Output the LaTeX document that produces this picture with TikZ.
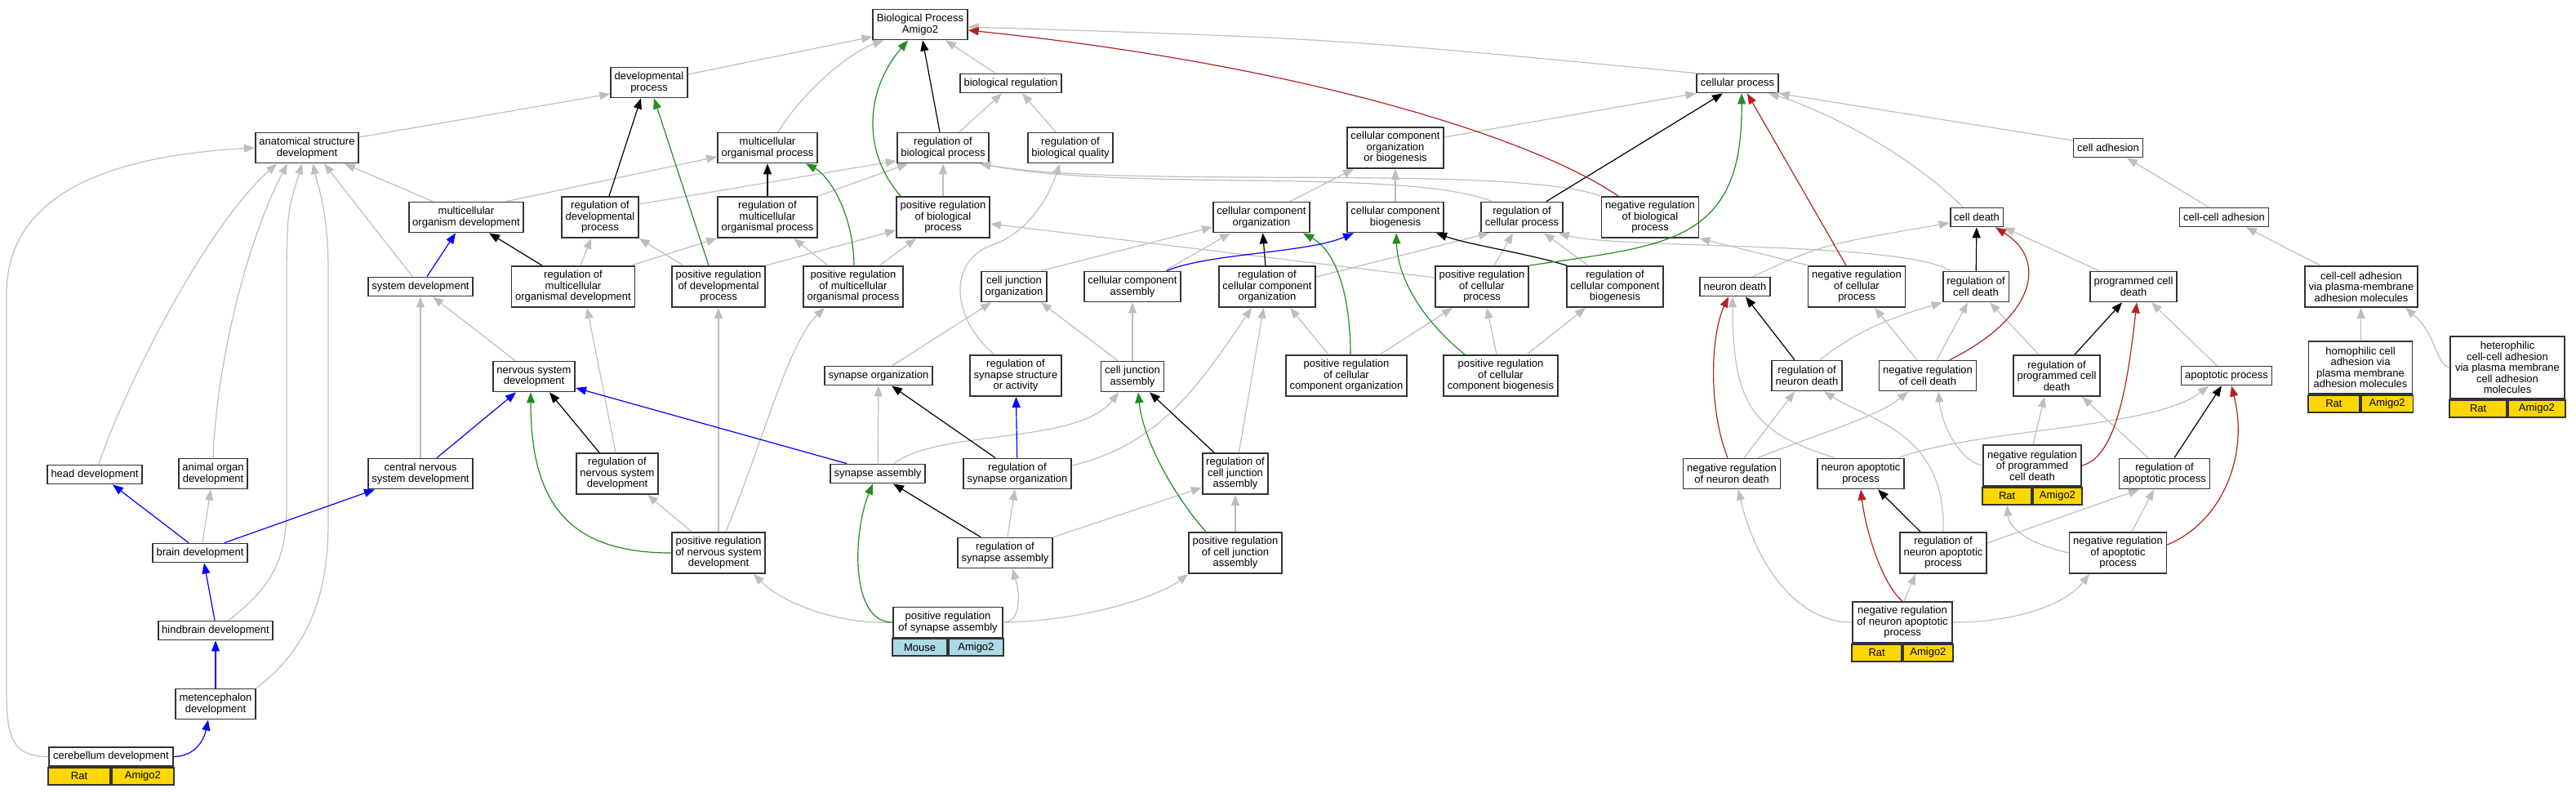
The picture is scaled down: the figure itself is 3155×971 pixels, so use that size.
\documentclass[tikz,border=0pt]{standalone}
\usepackage{fontspec}
\setmainfont{Liberation Sans}
\usetikzlibrary{arrows.meta}

\definecolor{isagray}{HTML}{BEBEBE}
\definecolor{posgreen}{HTML}{228B22}
\definecolor{negred}{HTML}{B22222}
\definecolor{ratgold}{HTML}{FFD700}
\definecolor{mouseblue}{HTML}{ADD8E6}
\definecolor{boxline}{HTML}{333333}

\begin{document}
\begin{tikzpicture}[x=1pt, y=-1pt, >={Triangle[length=13pt,width=10pt]},
  gobox/.style={draw=boxline, line width=1.8pt, fill=white, align=center,
    inner xsep=4.6pt, inner ysep=1pt, font=\fontsize{13}{13.5}\selectfont},
  oneline/.style={gobox, minimum height=23pt},
  twoline/.style={gobox, minimum height=37pt},
  threeline/.style={gobox, minimum height=50pt},
  fourline/.style={gobox, minimum height=64pt},
  fiveline/.style={gobox, minimum height=76pt},
  species/.style={draw=boxline, line width=1.8pt, fill=ratgold, minimum height=21pt,
    inner sep=0pt, font=\fontsize{13}{13.5}\selectfont},
  mouse/.style={species, fill=mouseblue},
  isa/.style={->, draw=isagray, line width=1.2pt},
  regl/.style={->, draw=black, line width=1.2pt},
  posreg/.style={->, draw=posgreen, line width=1.2pt},
  negreg/.style={->, draw=negred, line width=1.2pt},
  partof/.style={->, draw=blue, line width=1.2pt}]
       \useasboundingbox (0,0) rectangle (3155,971);

       \node[twoline] (bp) at (1127,30) {Biological Process\\Amigo2};
       \node[twoline] (devproc) at (795,101) {developmental\\process};
       \node[oneline] (bioreg) at (1238,102) {biological regulation};
       \node[oneline] (cellproc) at (2128,102) {cellular process};

       \node[twoline] (anat) at (376,181) {anatomical structure\\development};
       \node[twoline] (multorg) at (940,181) {multicellular\\organismal process};
       \node[twoline] (regbio) at (1155,181) {regulation of\\biological process};
       \node[twoline] (regbioq) at (1311,181) {regulation of\\biological quality};
       \node[threeline] (ccob) at (1709,181) {cellular component\\organization\\or biogenesis};
       \node[oneline] (celladh) at (2582,181) {cell adhesion};

       \node[twoline] (mod) at (571,266) {multicellular\\organism development};
       \node[threeline] (regdev) at (735,266) {regulation of\\developmental\\process};
       \node[threeline] (regmult) at (940,266) {regulation of\\multicellular\\organismal process};
       \node[threeline] (posbio) at (1155,266) {positive regulation\\of biological\\process};
       \node[twoline] (ccorg) at (1545,266) {cellular component\\organization};
       \node[twoline] (ccbio) at (1709,266) {cellular component\\biogenesis};
       \node[twoline] (regcell) at (1864,266) {regulation of\\cellular process};
       \node[threeline] (negbio) at (2021,266) {negative regulation\\of biological\\process};
       \node[oneline] (celldeath) at (2421,266) {cell death};
       \node[oneline] (ccadh) at (2724,266) {cell-cell adhesion};

       \node[oneline] (sysdev) at (515,351) {system development};
       \node[threeline] (regmod) at (702,351) {regulation of\\multicellular\\organismal development};
       \node[threeline] (posdev) at (880,351) {positive regulation\\of developmental\\process};
       \node[threeline] (posmult) at (1045,351) {positive regulation\\of multicellular\\organismal process};
       \node[twoline] (cjorg) at (1242,351) {cell junction\\organization};
       \node[twoline] (ccasm) at (1387,351) {cellular component\\assembly};
       \node[threeline] (regccorg) at (1552,351) {regulation of\\cellular component\\organization};
       \node[threeline] (poscell) at (1815,351) {positive regulation\\of cellular\\process};
       \node[threeline] (regccbio) at (1978,351) {regulation of\\cellular component\\biogenesis};
       \node[oneline] (ndeath) at (2125,351) {neuron death};
       \node[threeline] (negcell) at (2274,351) {negative regulation\\of cellular\\process};
       \node[twoline] (regcd) at (2420,351) {regulation of\\cell death};
       \node[twoline] (pcd) at (2613,351) {programmed cell\\death};
       \node[threeline] (ccadhpm) at (2892,351) {cell-cell adhesion\\via plasma-membrane\\adhesion molecules};

       \node[twoline] (nsd) at (654,461) {nervous system\\development};
       \node[oneline] (synorg) at (1076,460) {synapse organization};
       \node[threeline] (regsyns) at (1244,460) {regulation of\\synapse structure\\or activity};
       \node[twoline] (cjasm) at (1387,461) {cell junction\\assembly};
       \node[threeline] (posccorg) at (1649,460) {positive regulation\\of cellular\\component organization};
       \node[threeline] (posccbio) at (1838,460) {positive regulation\\of cellular\\component biogenesis};
       \node[twoline] (regnd) at (2213,460) {regulation of\\neuron death};
       \node[twoline] (negcd) at (2361,460) {negative regulation\\of cell death};
       \node[threeline] (regpcd) at (2519,460) {regulation of\\programmed cell\\death};
       \node[oneline] (apop) at (2727,460) {apoptotic process};
       \node[fourline, minimum width=127pt] (homo) at (2891,450) {homophilic cell\\adhesion via\\plasma membrane\\adhesion molecules};
       \node[species, minimum width=63.5pt, anchor=north east] (homorat) at (homo.south) {Rat};
       \node[species, minimum width=63.5pt, anchor=north west] (homogene) at (homo.south) {Amigo2};
       \node[fiveline, minimum width=140pt] (hetero) at (3071,450) {heterophilic\\cell-cell adhesion\\via plasma membrane\\cell adhesion\\molecules};
       \node[species, minimum width=70pt, anchor=north east] (heterorat) at (hetero.south) {Rat};
       \node[species, minimum width=70pt, anchor=north west] (heterogene) at (hetero.south) {Amigo2};

       \node[oneline] (headdev) at (116,581) {head development};
       \node[twoline] (aorgan) at (261,580) {animal organ\\development};
       \node[twoline] (cnsd) at (515,580) {central nervous\\system development};
       \node[threeline] (regnsd) at (756,580) {regulation of\\nervous system\\development};
       \node[oneline] (synasm) at (1075,580) {synapse assembly};
       \node[twoline] (regsynorg) at (1246,580) {regulation of\\synapse organization};
       \node[threeline] (regcja) at (1513,580) {regulation of\\cell junction\\assembly};
       \node[twoline] (negnd) at (2121,580) {negative regulation\\of neuron death};
       \node[twoline] (nap) at (2279,580) {neuron apoptotic\\process};
       \node[threeline, minimum width=120pt] (negpcd) at (2489,570) {negative regulation\\of programmed\\cell death};
       \node[species, minimum width=60pt, anchor=north east] (negpcdrat) at (negpcd.south) {Rat};
       \node[species, minimum width=60pt, anchor=north west] (negpcdgene) at (negpcd.south) {Amigo2};
       \node[twoline] (regap) at (2651,580) {regulation of\\apoptotic process};

       \node[oneline] (braindev) at (245,677) {brain development};
       \node[threeline] (posnsd) at (880,677) {positive regulation\\of nervous system\\development};
       \node[twoline] (regsynasm) at (1231,677) {regulation of\\synapse assembly};
       \node[threeline] (poscja) at (1513,677) {positive regulation\\of cell junction\\assembly};
       \node[threeline] (regnap) at (2380,677) {regulation of\\neuron apoptotic\\process};
       \node[threeline] (negap) at (2594,677) {negative regulation\\of apoptotic\\process};

       \node[oneline] (hindbrain) at (264,772) {hindbrain development};
       \node[twoline, minimum width=134pt] (possynasm) at (1161,762) {positive regulation\\of synapse assembly};
       \node[mouse, minimum width=67pt, anchor=north east] (possynasmmouse) at (possynasm.south) {Mouse};
       \node[mouse, minimum width=67pt, anchor=north west] (possynasmgene) at (possynasm.south) {Amigo2};
       \node[threeline, minimum width=122pt] (negnap) at (2330,762) {negative regulation\\of neuron apoptotic\\process};
       \node[species, minimum width=61pt, anchor=north east] (negnaprat) at (negnap.south) {Rat};
       \node[species, minimum width=61pt, anchor=north west] (negnapgene) at (negnap.south) {Amigo2};
       \node[twoline] (metenc) at (264,862) {metencephalon\\development};
       \node[oneline, minimum width=152pt] (cereb) at (136,926.5) {cerebellum development};
       \node[species, minimum width=76pt, anchor=north east] (cerebrat) at (cereb.south) {Rat};
       \node[species, minimum width=76pt, anchor=north west] (cerebgene) at (cereb.south) {Amigo2};

       \draw[isa] ([yshift=13pt]anat.east) -- ([yshift=-14pt]devproc.west);
       \draw[isa] ([yshift=10pt]devproc.east) -- ([yshift=-15pt]bp.west);
       \draw[isa] ([xshift=13pt]multorg.north) .. controls (985,110) and (1040,65) .. ([xshift=-45pt]bp.south);
       \draw[isa] ([xshift=-19pt]bioreg.north) -- ([xshift=31pt]bp.south);
       \draw[isa] (cellproc.north west) .. controls (1632,47) .. ([yshift=-3pt]bp.east);
       \draw[isa] ([xshift=20pt]regbio.north) -- ([xshift=-11pt]bioreg.south);
       \draw[isa] ([xshift=-18pt]regbioq.north) -- ([xshift=14pt]bioreg.south);
       \draw[isa] ([xshift=-41pt]mod.north) -- ([xshift=46pt]anat.south);
       \draw[isa] ([xshift=49pt]mod.north) -- ([yshift=-11pt]multorg.west);
       \draw[isa] ([yshift=16pt]regdev.east) -- ([yshift=-16pt]regbio.west);
       \draw[isa] (regmult.north east) -- ([xshift=-43pt]regbio.south);
       \draw[isa] (posbio) -- (regbio);
       \draw[isa] ([xshift=14pt]regcell.north west) .. controls (1720,205) and (1380,235) .. ([xshift=-12pt]regbio.south east);
       \draw[isa] (negbio.north west) .. controls (1850,200) and (1380,232) .. ([xshift=-12pt]regbio.south east);
       \draw[isa] ([xshift=9pt]regmod.north) -- ([xshift=-11pt]regdev.south);
       \draw[isa] ([xshift=71pt]regmod.north) -- (regmult.south west);
       \draw[isa] ([xshift=-43pt]posdev.north) -- (regdev.south east);
       \draw[isa] (posdev.north east) -- ([yshift=-16pt]posbio.west);
       \draw[isa] ([xshift=-31pt]posmult.north) -- ([xshift=32pt]regmult.south);
       \draw[isa] ([xshift=32pt]posmult.north) -- ([xshift=-33pt]posbio.south);
       \draw[isa] ([xshift=-10pt]sysdev.north) -- ([xshift=21pt]anat.south);
       \draw[isa] ([xshift=-23pt]nsd.north) -- ([xshift=15pt]sysdev.south);
       \draw[isa] (cnsd) -- (sysdev);
       \draw[isa] ([xshift=-2pt]regnsd.north) -- ([xshift=17pt]regmod.south);
       \draw[isa] ([xshift=-33pt]posnsd.north) -- ([xshift=37pt]regnsd.south);
       \draw[isa] (posnsd) -- (posdev);
       \draw[isa] ([xshift=9pt]posnsd.north) .. controls (935,540) and (965,420) .. ([xshift=-35pt]posmult.south);
       \draw[isa] ([xshift=5pt]headdev.north) .. controls (150,480) and (250,280) .. ([xshift=-37pt]anat.south);
       \draw[isa] (aorgan.north) .. controls (265,450) and (300,300) .. ([xshift=-24pt]anat.south);
       \draw[isa] ([xshift=16pt]hindbrain.north) .. controls (330,720) and (351,690) .. (351,620) -- (351,330) .. controls (352,260) .. ([xshift=-6pt]anat.south);
       \draw[isa] (metenc.north east) .. controls (370,800) and (402,740) .. (402,640) -- (402,330) .. controls (402,260) and (390,230) .. ([xshift=7pt]anat.south);
       \draw[isa] (cereb.west) .. controls (12,926) and (8,900) .. (8,840) -- (8,360) .. controls (8,230) and (150,190) .. (anat.west);
       \draw[isa] ([xshift=3pt]braindev.north) -- ([xshift=-3pt]aorgan.south);

       \draw[isa] (synasm) -- (synorg);
       \draw[isa] ([xshift=17pt]synorg.north) -- ([xshift=-28pt]cjorg.south);
       \draw[isa] ([xshift=20pt]synasm.north) .. controls (1150,525) and (1320,545) .. ([xshift=-17pt]cjasm.south);
       \draw[isa] ([xshift=-18pt]cjasm.north) -- ([xshift=33pt]cjorg.south);
       \draw[isa] (cjasm) -- (ccasm);
       \draw[isa] ([xshift=33pt]cjorg.north) -- ([yshift=-12pt]ccorg.west);
       \draw[isa] ([xshift=40pt]ccasm.north) -- ([xshift=-38pt]ccorg.south);
       \draw[isa] ([xshift=-26pt]regsyns.north) .. controls (1165,390) and (1160,320) .. (1215,300) .. controls (1260,285) and (1285,240) .. ([xshift=-13pt]regbioq.south);
       \draw[isa] ([yshift=10pt]regsynorg.east) .. controls (1420,545) and (1470,470) .. ([xshift=-19pt]regccorg.south);
       \draw[isa] (regcja) -- (regccorg);
       \draw[isa] (regsynasm) -- (regsynorg);
       \draw[isa] (regsynasm.north east) -- ([yshift=-17pt]regcja.west);
       \draw[isa] (possynasm.east) .. controls (1250,762) and (1250,730) .. ([xshift=9pt]regsynasm.south);
       \draw[isa] (possynasm.east) .. controls (1330,760) and (1420,730) .. (poscja.south west);
       \draw[isa] (possynasm.west) .. controls (1030,765) and (960,740) .. ([xshift=43pt]posnsd.south);
       \draw[isa] (poscja) -- (regcja);

       \draw[isa] ([xshift=35pt]ccorg.north) -- ([xshift=-51pt]ccob.south);
       \draw[isa] (ccbio) -- (ccob);
       \draw[isa] ([yshift=13pt]ccob.east) -- (cellproc.south west);
       \draw[isa] ([yshift=11pt]poscell.west) -- ([yshift=-8pt]posbio.east);
       \draw[isa] ([yshift=12pt]regccorg.east) -- ([xshift=-40pt]regcell.south);
       \draw[isa] ([xshift=15pt]poscell.north) -- ([xshift=-11pt]regcell.south);
       \draw[isa] ([xshift=-33pt]regccbio.north) -- ([xshift=27pt]regcell.south);
       \draw[isa] ([xshift=-22pt]posccorg.north) -- ([xshift=28pt]regccorg.south);
       \draw[isa] ([xshift=41pt]posccorg.north) -- ([xshift=-36pt]poscell.south);
       \draw[isa] ([xshift=-5pt]posccbio.north) -- ([xshift=6pt]poscell.south);
       \draw[isa] ([xshift=32pt]posccbio.north) -- ([xshift=-36pt]regccbio.south);
       \draw[isa] ([xshift=-31pt]regcd.north) .. controls (2330,295) and (1980,305) .. ([xshift=-6pt]regcell.south east);
       \draw[isa] ([xshift=-59pt]negcell.north) -- (negbio.south east);

       \draw[isa] ([xshift=-17pt]celldeath.north) .. controls (2330,180) and (2220,130) .. ([xshift=38pt]cellproc.south);
       \draw[isa] ([yshift=9pt]celladh.west) -- (cellproc.south east);
       \draw[isa] ([xshift=-19pt]ccadh.north) -- ([xshift=23pt]celladh.south);
       \draw[isa] ([xshift=-50pt]ccadhpm.north) -- ([xshift=27pt]ccadh.south);
       \draw[isa] (homo) -- (ccadhpm);
       \draw[isa] (hetero.west) .. controls (2982,445) and (2985,410) .. ([xshift=54pt]ccadhpm.south);
       \draw[isa] ([xshift=22pt]ndeath.north) .. controls (2230,300) .. ([yshift=-7pt]celldeath.west);
       \draw[isa] ([xshift=-42pt]pcd.north) -- (celldeath.south east);
       \draw[isa] ([xshift=-12pt]apop.north) -- ([xshift=22pt]pcd.south);
       \draw[isa] ([xshift=-22pt]regpcd.north) -- ([xshift=17pt]regcd.south);
       \draw[isa] ([xshift=11pt]negcd.north) -- ([xshift=-10pt]regcd.south);
       \draw[isa] ([xshift=-13pt]negcd.north) -- ([xshift=22pt]negcell.south);
       \draw[isa] ([xshift=16pt]regnd.north) .. controls (2280,400) and (2330,385) .. (regcd.south west);
       \draw[isa] ([xshift=15pt]negnd.north) -- ([xshift=-15pt]regnd.south);
       \draw[isa] ([xshift=32pt]negnd.north) .. controls (2230,530) and (2300,510) .. ([xshift=-24pt]negcd.south);
       \draw[isa] ([xshift=-32pt]nap.north) .. controls (2150,530) and (2122,500) .. ([xshift=-3pt]ndeath.south);
       \draw[isa] ([xshift=46pt]nap.north) .. controls (2420,525) and (2640,525) .. ([xshift=-22pt]apop.south);
       \draw[isa] (regnap.north) .. controls (2384,530) and (2290,515) .. ([xshift=21pt]regnd.south);
       \draw[isa] ([yshift=12pt]regnap.east) -- ([xshift=-31pt]regap.south);
       \draw[isa] ([xshift=2pt]negnap.north) -- ([xshift=-34pt]regnap.south);
       \draw[isa] (negnap.west) .. controls (2200,762) and (2150,690) .. ([xshift=8pt]negnd.south);
       \draw[isa] (negnap.east) .. controls (2470,762) and (2530,740) .. ([xshift=-35pt]negap.south);
       \draw[isa] ([xshift=1pt]negpcd.north) -- ([xshift=-15pt]regpcd.south);
       \draw[isa] (negpcd.west) .. controls (2400,565) and (2378,520) .. ([xshift=13pt]negcd.south);
       \draw[isa] ([xshift=17pt]negap.north) -- ([xshift=-13pt]regap.south);
       \draw[isa] (negap.west) .. controls (2470,662) and (2460,640) .. (negpcdrat.south);
       \draw[isa] ([xshift=-20pt]regap.north) -- ([xshift=31pt]regpcd.south);

       \draw[regl] ([xshift=11pt]regdev.north) -- ([xshift=-10pt]devproc.south);
       \draw[regl] (regmult) -- (multorg);
       \draw[regl] ([xshift=-4pt]regbio.north) -- ([xshift=3pt]bp.south);
       \draw[regl] ([xshift=-38pt]regmod.north) -- ([xshift=28pt]mod.south);
       \draw[regl] ([xshift=-22pt]regnsd.north) -- ([xshift=19pt]nsd.south);
       \draw[regl] ([xshift=-27pt]regsynorg.north) -- ([xshift=16pt]synorg.south);
       \draw[regl] ([xshift=-30pt]regsynasm.north) -- ([xshift=19pt]synasm.south);
       \draw[regl] ([xshift=-26pt]regcja.north) -- ([xshift=21pt]cjasm.south);
       \draw[regl] (regccorg) -- (ccorg);
       \draw[regl] ([xshift=-59pt]regccbio.north) .. controls (1870,310) and (1800,300) .. ([xshift=50pt]ccbio.south);
       \draw[regl] ([xshift=30pt]regcell.north) -- ([xshift=-18pt]cellproc.south);
       \draw[regl] ([xshift=-15pt]regnd.north) -- ([xshift=13pt]ndeath.south);
       \draw[regl] (regcd) -- (celldeath);
       \draw[regl] ([xshift=22pt]regpcd.north) -- ([xshift=-14pt]pcd.south);
       \draw[regl] ([xshift=12pt]regap.north) -- ([xshift=-6pt]apop.south);
       \draw[regl] ([xshift=-28pt]regnap.north) -- ([xshift=21pt]nap.south);

       \draw[posreg] ([xshift=-12pt]posdev.north) -- ([xshift=6pt]devproc.south);
       \draw[posreg] ([xshift=1pt]posmult.north) .. controls (1045,260) and (1015,215) .. ([xshift=47pt]multorg.south);
       \draw[posreg] ([xshift=-52pt]posbio.north) .. controls (1055,185) and (1060,110) .. ([xshift=-15pt]bp.south);
       \draw[posreg] (posnsd.west) .. controls (700,677) and (650,620) .. ([xshift=-4pt]nsd.south);
       \draw[posreg] (possynasm.west) .. controls (1040,762) and (1045,650) .. ([xshift=-6pt]synasm.south);
       \draw[posreg] ([xshift=-36pt]poscja.north) .. controls (1440,610) and (1400,540) .. ([xshift=7pt]cjasm.south);
       \draw[posreg] ([xshift=5pt]posccorg.north) .. controls (1654,370) and (1640,310) .. ([xshift=51pt]ccorg.south);
       \draw[posreg] ([xshift=-44pt]posccbio.north) .. controls (1740,390) and (1712,340) .. ([xshift=1pt]ccbio.south);
       \draw[posreg] (poscell.north east) .. controls (2040,300) and (2135,300) .. ([xshift=5pt]cellproc.south);

       \draw[negreg] ([xshift=-39pt]negbio.north) .. controls (1880,170) and (1600,80) .. ([yshift=-7pt]bp.east);
       \draw[negreg] ([xshift=-13pt]negcell.north) -- ([xshift=12pt]cellproc.south);
       \draw[negreg] ([xshift=-5pt]negnd.north) .. controls (2092,500) and (2095,410) .. ([xshift=-8pt]ndeath.south);
       \draw[negreg] ([xshift=27pt]negcd.north) .. controls (2490,390) and (2510,320) .. ([xshift=23pt]celldeath.south);
       \draw[negreg] (negpcd.east) .. controls (2590,560) and (2605,480) .. ([xshift=4pt]pcd.south);
       \draw[negreg] ([yshift=10pt]negap.east) .. controls (2720,640) and (2755,560) .. ([xshift=6pt]apop.south);
       \draw[negreg] (negnap.north) .. controls (2305,715) and (2285,650) .. (nap.south);

       \draw[partof] ([xshift=8pt]sysdev.north) -- ([xshift=-13pt]mod.south);
       \draw[partof] ([xshift=20pt]cnsd.north) -- ([xshift=-22pt]nsd.south);
       \draw[partof] ([xshift=-38pt]synasm.north) -- ([yshift=-14pt]nsd.east);
       \draw[partof] ([xshift=-14pt]braindev.north) -- ([xshift=22pt]headdev.south);
       \draw[partof] ([xshift=30pt]braindev.north) -- ([xshift=-56pt]cnsd.south);
       \draw[partof] ([xshift=-1pt]hindbrain.north) -- ([xshift=5pt]braindev.south);
       \draw[partof] (metenc) -- (hindbrain);
       \draw[partof] (cereb.east) .. controls (240,926) and (250,905) .. ([xshift=-9pt]metenc.south);
       \draw[partof] (regsynorg) -- (regsyns);
       \draw[partof] ([xshift=42pt]ccasm.north) .. controls (1480,310) and (1600,310) .. ([xshift=-51pt]ccbio.south);
     \end{tikzpicture}
\end{document}
